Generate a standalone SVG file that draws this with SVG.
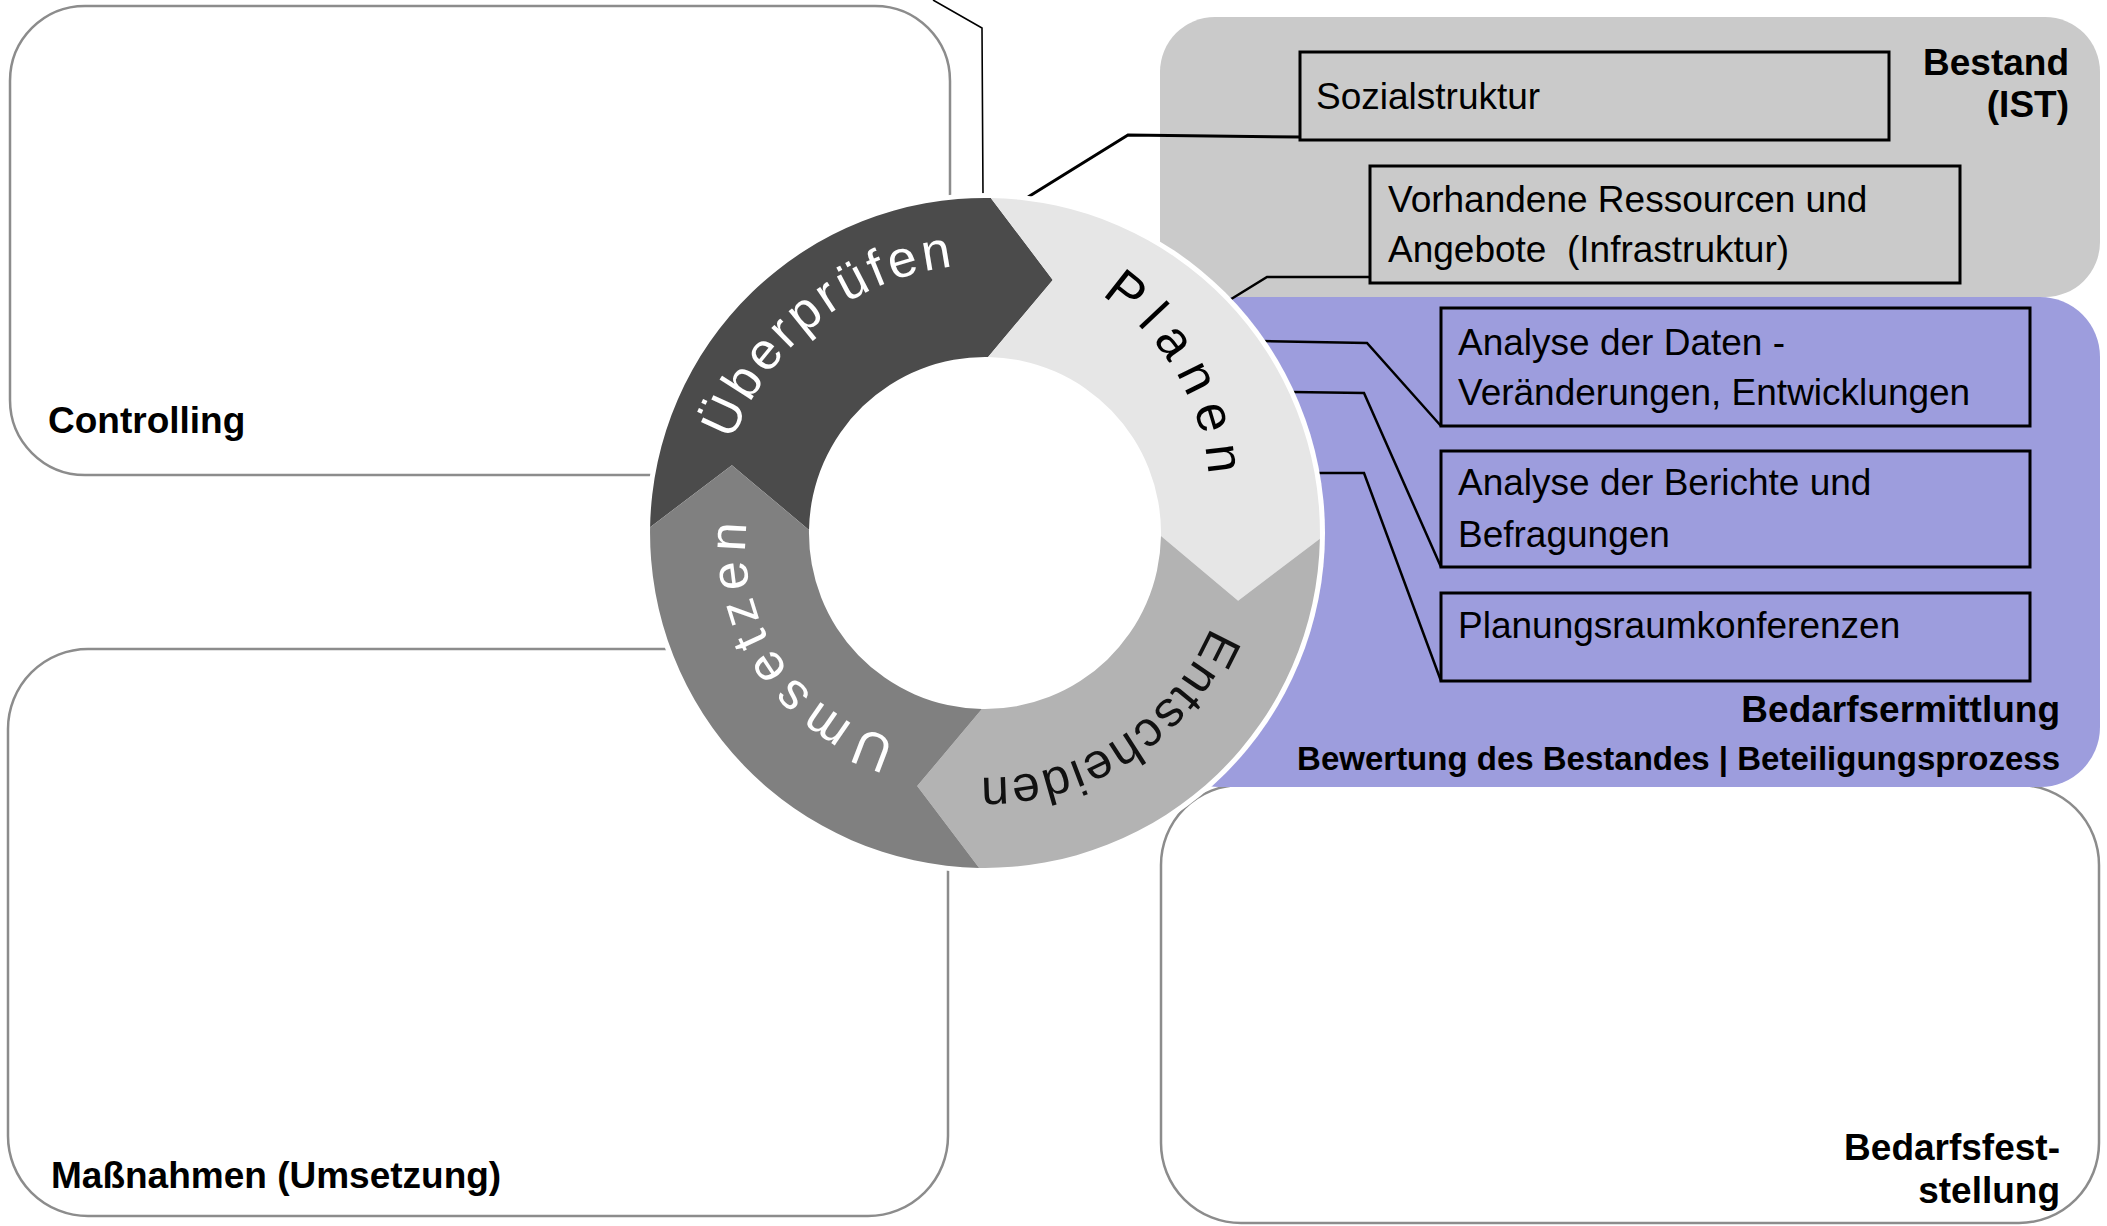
<svg xmlns="http://www.w3.org/2000/svg" width="2107" height="1226" viewBox="0 0 2107 1226">
<style>
.panel{fill:#fff;stroke:#8c8c8c;stroke-width:2.5}
.box{fill:none;stroke:#000;stroke-width:3}
.t{font-family:"Liberation Sans",Arial,sans-serif;font-size:37px;fill:#000}
.b{font-family:"Liberation Sans",Arial,sans-serif;font-size:37px;font-weight:bold;fill:#000}
.r{text-anchor:end}
.con{fill:none;stroke:#000;stroke-width:2.5;stroke-linejoin:miter}
.ring{font-family:"Liberation Sans",Arial,sans-serif;font-size:52px;text-anchor:middle}
</style>
<defs>
<path id="pU" d="M1150.3,744.6 A268.5,268.5 0 1 1 819.7,321.4 A268.5,268.5 0 1 1 1150.3,744.6"/>
<path id="pP" d="M765.7,612.7 A237.5,237.5 0 1 1 1178.3,377.3 A237.5,237.5 0 1 1 765.7,612.7"/>
<path id="pE" d="M851.8,327.9 A244.5,244.5 0 1 1 1118.2,738.1 A244.5,244.5 0 1 1 851.8,327.9"/>
<path id="pM" d="M1113.0,434.0 A200.5,200.5 0 1 1 779.0,656.0 A200.5,200.5 0 1 1 1113.0,434.0"/>
</defs>
<rect width="2107" height="1226" fill="#fff"/>

<g id="controlling">
<rect class="panel" x="10" y="6" width="940" height="469" rx="75" ry="75"/>
<text class="b" x="48" y="433">Controlling</text>
</g>

<g id="massnahmen">
<rect class="panel" x="8" y="649" width="940" height="567" rx="80" ry="80"/>
<text class="b" x="51" y="1188">Maßnahmen (Umsetzung)</text>
</g>

<g id="bedarfsfeststellung">
<rect class="panel" x="1161" y="785" width="938" height="438" rx="80" ry="80"/>
<text class="b r" x="2060" y="1160">Bedarfsfest-</text>
<text class="b r" x="2060" y="1203">stellung</text>
</g>

<g id="bedarfsermittlung">
<rect x="1160" y="297" width="940" height="490" rx="60" ry="60" fill="#9d9ddd"/>
<text class="b r" x="2060" y="722">Bedarfsermittlung</text>
<text class="b r" x="2060" y="770" style="font-size:33px">Bewertung des Bestandes | Beteiligungsprozess</text>
</g>

<g id="bestand">
<rect x="1160" y="17" width="940" height="280" rx="55" ry="55" fill="#cacaca"/>
<text class="b r" x="2069" y="75">Bestand</text>
<text class="b r" x="2069" y="117">(IST)</text>
</g>

<g id="sozialstruktur">
<rect class="box" x="1300" y="52" width="589" height="88"/>
<text class="t" x="1316" y="109">Sozialstruktur</text>
</g>

<g id="ressourcen">
<rect class="box" x="1370" y="166" width="590" height="117"/>
<text class="t" x="1388" y="212">Vorhandene Ressourcen und</text>
<text class="t" x="1388" y="262" style="white-space:pre">Angebote  (Infrastruktur)</text>
</g>

<g id="analyse-daten">
<rect class="box" x="1441" y="308" width="589" height="118"/>
<text class="t" x="1458" y="355">Analyse der Daten -</text>
<text class="t" x="1458" y="405">Veränderungen, Entwicklungen</text>
</g>

<g id="analyse-berichte">
<rect class="box" x="1441" y="451" width="589" height="116"/>
<text class="t" x="1458" y="495">Analyse der Berichte und</text>
<text class="t" x="1458" y="547">Befragungen</text>
</g>

<g id="planungsraum">
<rect class="box" x="1441" y="593" width="589" height="88"/>
<text class="t" x="1458" y="638">Planungsraumkonferenzen</text>
</g>

<g id="connectors">
<path class="con" style="stroke-width:1.6" d="M933,0 L982,28 L983,196"/>
<path class="con" style="stroke-width:3" d="M1300,137 L1128,135 L1028,197"/>
<path class="con" d="M1370,277 L1267,277 L1228,301"/>
<path class="con" d="M1262,341 L1367,343 L1441,426"/>
<path class="con" d="M1292,392 L1364,393 L1441,567"/>
<path class="con" d="M1318,473 L1364,473 L1441,681"/>
</g>

<g id="zyklus">
<circle cx="985" cy="533" r="340" fill="#fff"/>
<g id="ueberpruefen">
<path fill="#4b4b4b" d="M650.1,527.2 A335,335 0 0 1 990.8,198.0 L1052.8,279.9 L988.1,357.0 A176,176 0 0 0 809.0,529.9 L731.9,465.2 Z"/>
<text class="ring" fill="#fff" style="letter-spacing:3.9px"><textPath href="#pU" startOffset="50%">Überprüfen</textPath></text>
</g>
<g id="planen">
<path fill="#e6e6e6" d="M990.8,198.0 A335,335 0 0 1 1319.9,538.8 L1238.1,600.8 L1161.0,536.1 A176,176 0 0 0 988.1,357.0 L1052.8,279.9 Z"/>
<text class="ring" fill="#000" style="letter-spacing:10.9px"><textPath href="#pP" startOffset="50%">Planen</textPath></text>
</g>
<g id="entscheiden">
<path fill="#b3b3b3" d="M1319.9,538.8 A335,335 0 0 1 979.2,867.9 L917.2,786.1 L981.9,709.0 A176,176 0 0 0 1161.0,536.1 L1238.1,600.8 Z"/>
<text class="ring" fill="#111" style="font-size:50px;letter-spacing:1.7px"><textPath href="#pE" startOffset="50%">Entscheiden</textPath></text>
</g>
<g id="umsetzen">
<path fill="#808080" d="M979.2,867.9 A335,335 0 0 1 650.1,527.2 L731.9,465.2 L809.0,529.9 A176,176 0 0 0 981.9,709.0 L917.2,786.1 Z"/>
<text class="ring" fill="#fff" style="letter-spacing:7.5px"><textPath href="#pM" startOffset="50%">Umsetzen</textPath></text>
</g>
</g>
</svg>
